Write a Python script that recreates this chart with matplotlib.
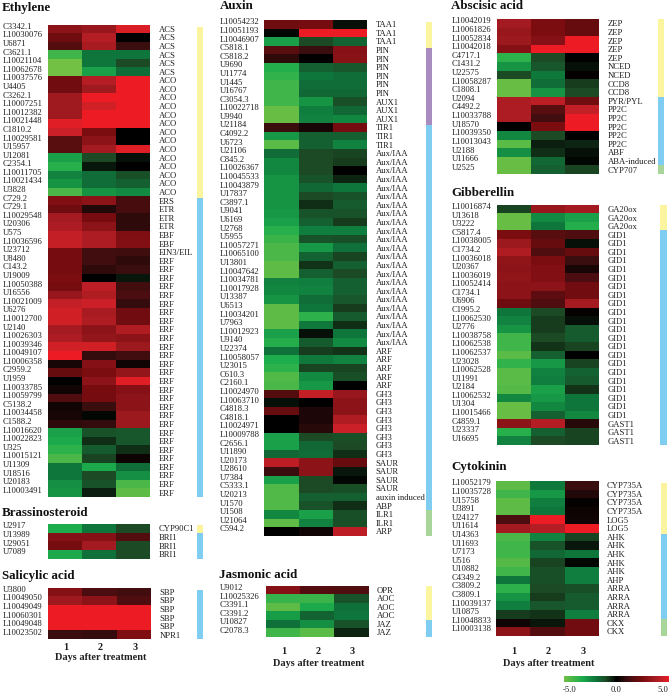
"""Hormone-pathway expression heatmaps, days 1-3 after treatment."""
import matplotlib
matplotlib.use("Agg")
import matplotlib.pyplot as plt
import numpy as np
from matplotlib.colors import LinearSegmentedColormap, ListedColormap

W, H = 669, 694
plt.rcParams["font.family"] = ["Liberation Serif", "DejaVu Serif"]

days = ["1", "2", "3"]
group_colors = ["#fbf5a0", "#7fcdf0", "#a88cc0", "#a8d59a"]  # yellow, blue, purple, green
Y, B, P, G = 0, 1, 2, 3

ethylene_ids = ["C3342.1", "L10030076", "U6871", "C3621.1", "L10021104", "L10062678", "L10037576", "U4405",
                "C3262.1", "L10007251", "L10012382", "L10021448", "C1810.2", "L10029581", "U15957", "U12081",
                "C2354.1", "L10011705", "L10021434", "U3828", "C729.2", "C729.1", "L10029548", "U20306", "U575",
                "L10036596", "U23712", "U8480", "C143.2", "U19009", "L10050388", "U16556", "L10021009", "U6276",
                "L10012700", "U2140", "L10026303", "L10039346", "L10049107", "L10006358", "C2959.2", "U1959",
                "L10033785", "L10059799", "C5138.2", "L10034458", "C1588.2", "L10016620", "L10022823", "U325",
                "L10015121", "U11309", "U18516", "U20183", "L10003491"]
ethylene_genes = ["ACS"] * 6 + ["ACO"] * 14 + ["ERS"] + ["ETR"] * 3 + ["EBF"] * 2 + ["EIN3/EIL"] + ["ERF"] * 28
ethylene_groups = [Y] * 20 + [B] * 35
ethylene_vals = [
    [3, 3.3, 4.7], [2.2, 4, 0], [1.6, 3.7, 1], [-4, -2, -2], [-5, -2, -1], [-5, -3, -1.8], [2.3, 4, 5],
    [2.3, 3.5, 5], [3.5, 5, 5], [3.5, 4.6, 5], [3.5, 5, 5], [4.8, 5, 5], [4.5, 2.5, 0], [1.7, 3, 0],
    [1.7, 3.6, 4.8], [-3, -1, -0.2], [-3.5, -0.3, 0], [-2.3, -1.8, -1.1], [-2.7, -1.8, -1.5], [-4.2, -2.7, -2.5],
    [2.7, 3, 1.3], [2.2, 0.6, 1.3], [3.6, 2.4, 0.8], [3.8, 3, 0.8], [4.3, 3.8, 2.6], [4.4, 3.8, 2.7],
    [2.4, 1.2, 1.1], [2.4, 1.2, 0.8], [2.4, 0.8, 1], [2.5, 0, -0.3], [2.4, 4.2, 1.2], [3.3, 3.9, 1.4],
    [4.3, 4.5, 0.9], [4.6, 3.7, 2.3], [4.6, 3.9, 2.3], [3.6, 3, 3.9], [3.8, 3.2, 3], [4.6, 4.6, 3.4],
    [5, 0.9, 1.2], [0.4, 2.8, 0.3], [2, 2.5, 3.2], [0, 3, 4.8], [0.3, 2.4, 2.8], [1.5, 2.4, 3], [0.3, 1, 3],
    [0.4, -0.1, 3.4], [0.8, 0.9, 3.4], [-3, -1.2, -1.3], [-3.2, -0.6, -1.3], [-3.6, -1.4, -0.6], [-4.2, -0.9, 0.2],
    [-2, -3.2, -1.8], [-2, -1, -2.6], [-2.6, -1.2, -4.2], [-2.7, -0.4, -4.6]]

brassino_ids = ["U2917", "U13989", "U29051", "U7089"]
brassino_genes = ["CYP90C1", "BRI1", "BRI1", "BRI1"]
brassino_groups = [Y, B, B, B]
brassino_vals = [[-3.3, -2, -1], [2.8, 2.8, 1.6], [2.4, 3.6, -1], [-3.2, -1.9, -1]]

salicylic_ids = ["U3800", "L10049050", "L10049049", "L10060301", "L10049048", "L10023502"]
salicylic_genes = ["SBP"] * 5 + ["NPR1"]
salicylic_groups = [B] * 6
salicylic_vals = [[2.8, 1.4, 1.2], [3.5, 3, 1.5], [5, 5, 5], [5, 5, 5], [5, 5, 5], [1, 0.9, 2.6]]

auxin_ids = ["L10054232", "L10051193", "L10046907", "C5818.1", "C5818.2", "U9690", "U11774", "U1445", "U16767",
             "C3054.3", "L10022718", "U9940", "U21184", "C4092.2", "U6723", "U21106", "C845.2", "L10026367",
             "L10045533", "L10043879", "U17837", "C3897.1", "U9041", "U6169", "U2768", "U5955", "L10057271",
             "L10065100", "U13801", "L10047642", "L10034781", "L10017928", "U13387", "U6513", "L10034201", "U7963",
             "L10012923", "U9140", "U22374", "L10058057", "U23015", "C610.3", "C2160.1", "L10024970", "L10063710",
             "C4818.3", "C4818.1", "L10024971", "L10009788", "C2656.1", "U11890", "U20173", "U28610", "U7384",
             "C5333.1", "U20213", "U1570", "U1508", "U21064", "C594.2"]
auxin_genes = ["TAA1"] * 3 + ["PIN"] * 6 + ["AUX1"] * 3 + ["TIR1"] * 3 + ["Aux/IAA"] * 23 + ["ARF"] * 5 + ["GH3"] * 8 \
    + ["SAUR"] * 4 + ["auxin induced", "ABP", "ILR1", "ILR1", "ARP"]
auxin_groups = [Y] * 3 + [P] * 9 + [B] * 45 + [G] * 3
auxin_vals = [
    [2.2, 2.4, -0.2], [-0.1, 5, 5], [-3, -1, -1.6], [1.7, 1, 2.8], [0.8, 0, 2.9], [-3.4, -1.5, -1.3],
    [-3.7, -2, -1.8], [-4, -1.8, -1.8], [-4, -1.7, -1.7], [-4, -2.7, -1.1], [-4.8, -2.2, -1.7], [-4.8, -2.3, -2.4],
    [1, 0.4, 2.4], [-2.8, -1.5, -1.5], [-4.5, -1.5, -2.3], [-1.8, -1, -0.9], [-2.4, -1, -0.8], [-2.4, -1, 0],
    [-2.7, -1.2, -0.5], [-2.7, -1.7, -2], [-2.7, -1, -1.2], [-2.7, -0.6, -1.4], [-2.8, -1.2, -1.2], [-3, -1.5, -0.8],
    [-3.5, -2.2, -2.2], [-3.9, -1.2, -1.1], [-4.2, -2.8, -1.9], [-4.2, -1.6, -0.9], [-4.6, -0.7, -1.5],
    [-4.6, -1.5, -1], [-2.3, -2.2, -1.5], [-2.4, -2.3, -1.5], [-2.7, -1.8, -1.3], [-4.6, -2, -0.8],
    [-4.6, -3.6, -1.4], [-4.6, -2.1, -0.6], [-3, -0.2, -2], [-3.4, -1.4, -2.5], [-1.9, -0.8, -0.7],
    [-3.3, -2.1, -2.3], [-3.6, -0.9, -0.9], [-4.3, -2.5, -1.1], [-4.2, -2.8, 0], [1.6, 4.4, 3.3], [-0.2, 0, 3],
    [2, 0.5, 3], [0, 0.5, 3.9], [0, 0.7, 4.5], [-3, -1, -1.1], [-3, -1.7, -1], [-1.7, -1.8, -0.6], [4.2, 3, 2],
    [1, 3, -0.3], [-3, -1, -0.1], [-4.3, -1, -1.1], [-4.3, -1.5, -1.5], [-4.3, -1.2, -0.6], [-2.4, -3, -1.1],
    [-4.6, -2.3, -1.1], [0, 0.3, 4.2]]

jasmonic_ids = ["U9012", "L10025326", "C3391.1", "C3391.2", "U10827", "C2078.3"]
jasmonic_genes = ["OPR", "AOC", "AOC", "AOC", "JAZ", "JAZ"]
jasmonic_groups = [Y] * 4 + [B] * 2
jasmonic_vals = [[2.8, 1.6, 1.5], [-3.8, -3.9, -1.2], [-4.6, -3.2, -1.9], [-2.9, -1.6, -2], [-1.9, -2.6, -1.2],
                 [-4, -4.5, -0.5]]

abscisic_ids = ["L10042019", "L10061826", "L10052834", "L10042018", "C4717.1", "C1431.2", "U22575", "L10058287",
                "C1808.1", "U2094", "C4492.2", "L10033788", "U18570", "L10039350", "L10013043", "U2188", "U11666",
                "U2525"]
abscisic_genes = ["ZEP"] * 5 + ["NCED"] * 2 + ["CCD8"] * 2 + ["PYR/PYL"] + ["PP2C"] * 5 + ["ABF", "ABA-induced", "CYP707"]
abscisic_groups = [Y] * 9 + [B] * 8 + [G]
abscisic_vals = [
    [3.6, 2.5, 2], [3.3, 2.5, 2], [3.4, 2.8, 5], [2.8, 5, 5], [-3.6, -1, 0], [-2.7, -1.3, -0.2], [-1, -2.1, 0.1],
    [-4.8, -1.8, -0.8], [-4.8, -2.7, -1], [3.8, 4.2, 2.3], [3.8, 1.7, 4.3], [3.8, 1.2, 5], [0, 2.5, 5],
    [-2.4, -1, 0], [-4.5, -0.4, -0.5], [-2.6, -0.6, -0.2], [-4.8, -1.7, -0.1], [-4.8, -1.5, -0.9]]

gibberellin_ids = ["L10016874", "U13618", "U3222", "C5817.4", "L10038005", "C1734.2", "L10036018", "U20367",
                   "L10036019", "L10052414", "C1734.1", "U6906", "C1995.2", "L10062530", "U2776", "L10038758",
                   "L10062538", "L10062537", "U23028", "L10062528", "U11991", "U2184", "L10062532", "U1304",
                   "L10015466", "C4859.1", "U23337", "U16695"]
gibberellin_genes = ["GA20ox"] * 3 + ["GID1"] * 22 + ["GAST1"] * 3
gibberellin_groups = [Y] * 3 + [B] * 25
gibberellin_vals = [
    [-0.9, 3.3, 3.6], [-4.8, -2.5, -3], [-4.8, -2, -3.4], [2.5, 1.7, 1.5], [3.4, 2, -0.2], [3.9, 1.5, 2],
    [3.1, 2.5, 1], [3, 2.7, 0.4], [3.1, 2.7, 1.4], [3, 3, 2.3], [3, 1.8, 2.3], [2.2, 1.5, 3.6], [-2, -1, 0.1],
    [-2.3, -0.8, -0.2], [-2.7, -0.8, -1.4], [-4, -1, -1.4], [-4, -0.7, -0.9], [-4.5, -1.5, 0], [-3.7, -2.8, -0.9],
    [-4.5, -2.3, -1.6], [-4.5, -2.2, -1.4], [-4.4, -3, -0.7], [-2.4, -2.8, -2], [-4.8, -2.4, -2], [-4.8, -1.5, -2.4],
    [3, 4, 0.7], [-3.5, -1.5, -0.9], [-2.3, -1, -0.9]]

cytokinin_ids = ["L10052179", "L10035728", "U15758", "U3891", "U24127", "U11614", "U14363", "U11693", "U7173", "U516",
                 "U10882", "C4349.2", "C3809.2", "C3809.1", "L10039137", "U10875", "L10048833", "L10003138"]
cytokinin_genes = ["CYP735A"] * 4 + ["LOG5"] * 2 + ["AHK"] * 5 + ["AHP"] + ["ARRA"] * 4 + ["CKX"] * 2
cytokinin_groups = [Y] * 6 + [B] * 10 + [G] * 2
cytokinin_vals = [
    [-4.6, -2.1, 1], [-4, -2.8, 0.6], [-4.6, -2.2, 0.1], [-4.6, -2, 0.2], [1.4, 5, 0.3], [3.6, 4, 5],
    [-4.2, -2.3, -0.9], [-4, -1.2, -0.3], [-4, -1.7, -2], [-4.4, -0.9, -0.1], [-4, -1.1, -2.2], [-2, -1.1, -2.2],
    [-3.6, -1, -1.1], [-2.7, -0.8, -1.4], [-2.2, -1.3, -1.4], [-0.8, -0.7, -2.2], [0.3, -0.3, 2.3], [3, 1.6, 2.3]]

legend_ticks = [-5.0, 0.0, 5.0]

stops = [(-5, "#72c044"), (-3.3, "#1cad4c"), (-2, "#0e753b"), (-1, "#1b4a24"), (0, "#000000"),
         (1, "#3a0d0e"), (2.5, "#7a0c10"), (3.5, "#9e1a1f"), (4.5, "#c92027"), (5, "#ed1c24")]
cmap = LinearSegmentedColormap.from_list("gbr", [((v + 5) / 10, c) for v, c in stops])
group_cmap = ListedColormap(group_colors)
TXT = "#1f1f1f"


def px_axes(fig, x0, y0, x1, y1):
    """Axes given in reference pixels, y measured from the top."""
    return fig.add_axes([x0 / W, 1 - y1 / H, (x1 - x0) / W, (y1 - y0) / H])


def panel(fig, title, ids, genes, vals, groups, box, title_xy, id_x, gene_x, bar, days_y=None):
    x0, y0, x1, y1 = box
    vals = np.array(vals)
    n = len(ids)
    ax = px_axes(fig, *box)
    ax.pcolormesh(np.arange(4), np.arange(n + 1), vals, cmap=cmap, vmin=-5, vmax=5)
    ax.set_ylim(n, 0)
    ax.axis("off")
    fig.text(title_xy[0] / W, 1 - title_xy[1] / H, title, fontsize=9.4, fontweight="bold", va="center", color="#111")
    for i in range(n):
        ax.annotate(ids[i], (0, i + 0.5), xycoords=("axes fraction", "data"), xytext=((id_x - x0) * 0.72, 1.4),
                    textcoords="offset points", ha="left", va="center", fontsize=6.2, color=TXT, annotation_clip=False)
        ax.annotate(genes[i], (0, i + 0.5), xycoords=("axes fraction", "data"), xytext=((gene_x - x0) * 0.72, -0.7),
                    textcoords="offset points", ha="left", va="center", fontsize=6.2, color=TXT, annotation_clip=False)
    b = px_axes(fig, bar[0], bar[2], bar[1], bar[3])
    b.pcolormesh(np.array(groups).reshape(-1, 1), cmap=group_cmap, vmin=-0.5, vmax=3.5)
    b.set_ylim(n, 0)
    b.axis("off")
    if days_y is not None:
        for j, d in enumerate(days):
            ax.annotate(d, (j + 0.5, 0), xycoords=("data", "axes fraction"), xytext=(0.7, -(days_y - y1) * 0.72),
                        textcoords="offset points", ha="center", va="center", fontsize=7.4, fontweight="bold", color=TXT)
        ax.annotate("Days after treatment", (0.5, 0), xycoords="axes fraction", xytext=(1, -(days_y + 11 - y1) * 0.72),
                    textcoords="offset points", ha="center", va="center", fontsize=7.4, fontweight="bold", color=TXT)


def main():
    fig = plt.figure(figsize=(W / 100, H / 100), dpi=100)
    panel(fig, "Ethylene", ethylene_ids, ethylene_genes, ethylene_vals, ethylene_groups,
          (47.5, 24.5, 150, 497), (2, 8.5), 3, 159, (197, 203, 26.5, 497))
    panel(fig, "Brassinosteroid", brassino_ids, brassino_genes, brassino_vals, brassino_groups,
          (47.5, 524, 150, 558.5), (2, 512.5), 3, 159, (197, 203, 524.5, 558.5))
    panel(fig, "Salicylic acid", salicylic_ids, salicylic_genes, salicylic_vals, salicylic_groups,
          (48, 587.5, 151, 639), (2, 575.5), 3, 159.5, (197, 203, 590, 639), days_y=647)
    panel(fig, "Auxin", auxin_ids, auxin_genes, auxin_vals, auxin_groups,
          (264.3, 20, 367.3, 535.7), (220, 6), 219.5, 375.5, (425.7, 432, 22, 536))
    panel(fig, "Jasmonic acid", jasmonic_ids, jasmonic_genes, jasmonic_vals, jasmonic_groups,
          (265.5, 585.7, 368.5, 636.7), (219, 575), 219.5, 377, (426, 432, 586, 637), days_y=652)
    panel(fig, "Abscisic acid", abscisic_ids, abscisic_genes, abscisic_vals, abscisic_groups,
          (496.7, 19, 599.3, 174), (451, 6), 451.5, 608, (658.3, 664, 19, 174))
    panel(fig, "Gibberellin", gibberellin_ids, gibberellin_genes, gibberellin_vals, gibberellin_groups,
          (496.7, 204.7, 599.3, 445), (451, 193), 451.5, 608, (660, 667, 204.7, 445))
    panel(fig, "Cytokinin", cytokinin_ids, cytokinin_genes, cytokinin_vals, cytokinin_groups,
          (495.7, 481, 599, 635.7), (451, 467), 451.5, 607, (661, 667, 483, 636), days_y=652)

    # colour key, runs off the right edge like the reference
    k = px_axes(fig, 564, 675.7, 669, 682)
    k.imshow(np.linspace(-5, 5, 256).reshape(1, -1), cmap=cmap, vmin=-5, vmax=5, aspect="auto", extent=(-5.6, 5.6, 0, 1))
    k.axis("off")
    for t in legend_ticks:
        k.annotate(f"{t:.1f}", (t, 0), xycoords=("data", "axes fraction"), xytext=(0, -5.8), textcoords="offset points",
                   ha="center", va="center", fontsize=6.2, color=TXT, annotation_clip=False)

    fig.savefig("out.png", dpi=100)


if __name__ == "__main__":
    main()
